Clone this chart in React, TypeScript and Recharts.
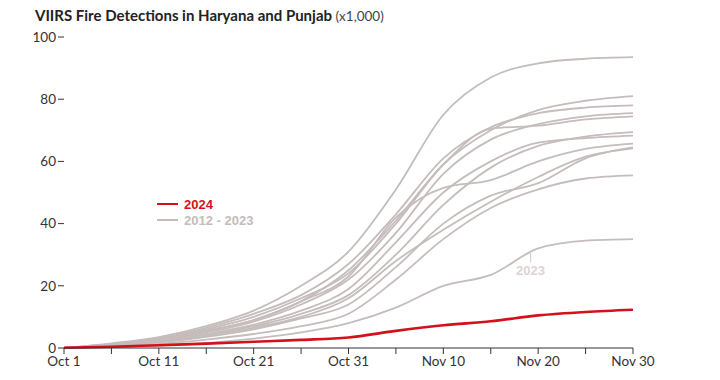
import { LineChart, Line, XAxis, YAxis, ReferenceLine, ReferenceDot } from "recharts"

// days since Oct 1
const days = [0, 5, 10, 15, 20, 25, 30, 35, 40, 45, 50, 55, 60]
const xTickLabels = ["Oct 1", "", "Oct 11", "", "Oct 21", "", "Oct 31", "", "Nov 10", "", "Nov 20", "", "Nov 30"]
const yTicks = [0, 20, 40, 60, 80, 100]

// cumulative detections (x1,000)
const y2012 = [0, 1.5, 3.5, 7, 12, 20, 31, 51, 75, 87, 91.5, 93, 93.5]
const y2013 = [0, 1.2, 3, 6, 10, 16, 24, 40, 59, 70, 76.5, 79.5, 81]
const y2014 = [0, 1.3, 3.2, 6.5, 11, 17, 27, 43, 61, 71, 75.5, 77.3, 78]
const y2015 = [0, 1, 2.5, 5, 8.5, 14, 22, 37, 56, 67, 72, 74.5, 75.5]
const y2016 = [0, 1.1, 2.8, 5.5, 9, 15, 25, 41, 59, 70.5, 71.5, 73.5, 74.5]
const y2017 = [0, 0.8, 2, 4, 7, 11, 17, 30, 46, 58, 65, 68, 69.4]
const y2018 = [0, 0.9, 2.2, 4.5, 7.5, 12, 19, 34, 50, 60, 66, 67.5, 68.3]
const y2019 = [0, 1, 2.6, 5.5, 9, 15, 23, 42, 51.5, 54, 60, 64, 65.7]
const y2020 = [0, 0.7, 1.8, 3.6, 6, 9.5, 14, 26, 40, 49, 53, 61, 64.5]
const y2021 = [0, 0.8, 2, 4, 6.5, 10, 16, 28, 38, 47, 55, 61.5, 64.2]
const y2022 = [0, 0.5, 1.3, 2.7, 4.5, 7, 11, 22, 35, 45, 51, 54.5, 55.5]
const y2023 = [0, 0.3, 0.8, 1.6, 3, 5, 8, 13, 20, 23.5, 32, 34.5, 35]
const y2024 = [0.1, 0.4, 0.9, 1.4, 2, 2.6, 3.4, 5.5, 7.3, 8.6, 10.5, 11.6, 12.3]

const grayYears: [string, number[]][] = [
  ["y2012", y2012],
  ["y2013", y2013],
  ["y2014", y2014],
  ["y2015", y2015],
  ["y2016", y2016],
  ["y2017", y2017],
  ["y2018", y2018],
  ["y2019", y2019],
  ["y2020", y2020],
  ["y2021", y2021],
  ["y2022", y2022],
  ["y2023", y2023],
]

const data = days.map((day, i) => {
  const row: any = { day, y2024: y2024[i] }
  grayYears.forEach(([key, vals]) => {
    row[key] = vals[i]
  })
  return row
})

const GRAY = "#c5bcbc"
const RED = "#d2111b"
const FONT = "Lato, 'Liberation Sans', sans-serif"

export default function App() {
  return (
    <div style={{ position: "relative", width: 712, height: 372, fontFamily: FONT }}>
      <div
        style={{
          position: "absolute",
          left: 27,
          top: -2,
          lineHeight: "18px",
          color: "#222",
          whiteSpace: "nowrap",
          zIndex: 2,
        }}
      >
        <span style={{ fontWeight: 700, fontSize: 15 }}>VIIRS Fire Detections in Haryana and Punjab</span>
        <span style={{ color: "#444", fontSize: 13.5 }}> (x1,000)</span>
      </div>

      <div
        style={{
          position: "absolute",
          left: 149,
          top: 188,
          fontFamily: "'Liberation Sans', Arial, sans-serif",
          fontWeight: 700,
          fontSize: 13,
          zIndex: 2,
        }}
      >
        <div style={{ display: "flex", alignItems: "center", height: 16, color: RED }}>
          <span style={{ display: "inline-block", width: 21, height: 2.5, background: RED, marginRight: 6 }} />
          2024
        </div>
        <div style={{ display: "flex", alignItems: "center", height: 16, color: GRAY }}>
          <span style={{ display: "inline-block", width: 21, height: 2.5, background: GRAY, marginRight: 6 }} />
          2012 - 2023
        </div>
      </div>

      <LineChart width={712} height={372} data={data} margin={{ top: 29, right: 87, left: 0, bottom: 0 }}>
        <XAxis
          dataKey="day"
          type="number"
          domain={[0, 60]}
          ticks={days}
          tickFormatter={(v) => xTickLabels[days.indexOf(v)] ?? ""}
          height={32}
          tickSize={6}
          axisLine={{ stroke: "#333", strokeWidth: 1.2 }}
          tickLine={{ stroke: "#333" }}
          tick={{ fontSize: 13.5, fill: "#333", fontFamily: FONT }}
          interval={0}
        />
        <YAxis
          type="number"
          domain={[0, 100]}
          ticks={yTicks}
          width={56}
          tickSize={6}
          axisLine={false}
          tickLine={{ stroke: "#333" }}
          tick={{ fontSize: 13.5, fill: "#333", fontFamily: FONT }}
        />
        {grayYears.map(([key]) => (
          <Line
            key={key}
            dataKey={key}
            type="monotone"
            stroke={GRAY}
            strokeWidth={1.8}
            dot={false}
            isAnimationActive={false}
          />
        ))}
        <Line dataKey="y2024" type="monotone" stroke={RED} strokeWidth={2.6} dot={false} isAnimationActive={false} />
        <ReferenceLine
          segment={[
            { x: 49.2, y: 31.3 },
            { x: 49.2, y: 27.5 },
          ]}
          stroke="#d8d0d0"
          strokeWidth={1.2}
        />
        <ReferenceDot
          x={49.2}
          y={27.5}
          r={0}
          fill="none"
          stroke="none"
          label={{
            value: "2023",
            position: "bottom",
            offset: 3,
            fill: "#dbd3d3",
            fontSize: 13,
            fontWeight: 700,
            fontFamily: "'Liberation Sans', Arial, sans-serif",
          }}
        />
      </LineChart>
    </div>
  )
}
